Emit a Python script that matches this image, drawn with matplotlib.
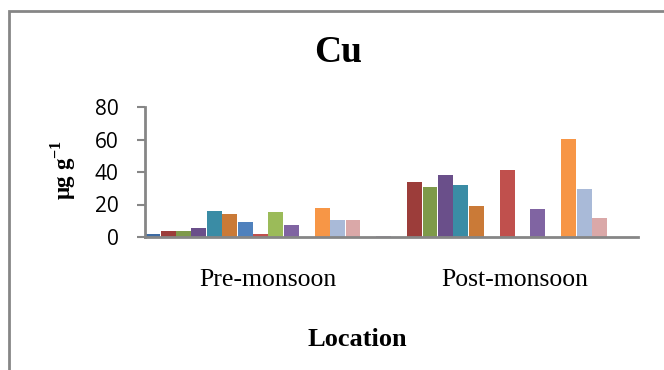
import matplotlib.pyplot as plt
import numpy as np
from matplotlib.patches import Rectangle

plt.rcParams['mathtext.fontset'] = 'custom'
plt.rcParams['mathtext.rm'] = 'Liberation Serif:bold'
plt.rcParams['mathtext.bf'] = 'Liberation Serif:bold'

seasons = ['Pre-monsoon', 'Post-monsoon']
# one value per location (16 series), pre- and post-monsoon
cu_pre = [2.0, 3.9, 3.5, 5.5, 15.8, 13.9, 9.4, 2.0, 15.6, 7.6, 0.0, 17.8, 10.6, 10.6, 0.0, 0.8]
cu_post = [0.0, 33.6, 30.7, 37.9, 32.1, 19.2, 0.0, 41.0, 0.0, 17.3, 0.0, 60.2, 29.3, 11.5, 0.0, 0.0]
colors = ['#3E6BA3', '#9C3D3A', '#7E9A4A', '#6A4F8A', '#3A8CA5', '#CA7A37',
          '#4F81BD', '#C0504D', '#9BBB59', '#8064A2', '#4BACC6', '#F79646',
          '#A9BAD8', '#DAA8A8', '#C3D69B', '#B8A9CB']

grey = '#868686'
fig = plt.figure(figsize=(6.64, 3.70), dpi=100)
ax = fig.add_axes([145 / 664, 1 - 237 / 370, (638 - 145) / 664, (237 - 107) / 370])

n = len(cu_pre)
w = 1.0 / n
x = np.arange(len(seasons))
for i in range(n):
    vals = [cu_pre[i], cu_post[i]]
    ax.bar(x + (i - (n - 1) / 2) * w, vals, width=w * 0.97, color=colors[i],
           linewidth=0, align='center', zorder=1)

ax.set_xlim(-0.5, 1.5)
ax.set_ylim(0, 80)
ax.set_yticks([0, 20, 40, 60, 80])
ax.set_xticks(x)
ax.set_xticklabels(seasons, family='Liberation Serif', fontsize=18.5)
ax.tick_params(axis='x', length=0, pad=23)
ax.tick_params(axis='y', length=6, width=1.5, color=grey, pad=13,
               labelsize=15)
for lab in ax.get_yticklabels():
    lab.set_family('Open Sans')
for s in ['top', 'right']:
    ax.spines[s].set_visible(False)
for s in ['left', 'bottom']:
    ax.spines[s].set_color(grey)
    ax.spines[s].set_linewidth(2)
    ax.spines[s].set_zorder(3)

fig.text(338 / 664, 1 - 53 / 370, 'Cu', family='Liberation Serif',
         fontweight='bold', fontsize=27, ha='center', va='center')
fig.text(357 / 664, 1 - 340 / 370, 'Location', family='Liberation Serif',
         fontweight='bold', fontsize=19, ha='center', va='center')
fig.text(63 / 664, 1 - 170 / 370, r'μg g$^{\mathbf{-1}}$', family='Liberation Serif',
         fontweight='bold', fontsize=16.5, rotation=90, ha='center', va='center')

# chart area frame (only left and top edges fall inside the image)
fig.add_artist(Rectangle((8.5 / 664, -0.1), 2, 1.1 - 11 / 370,
                         transform=fig.transFigure, fill=False,
                         edgecolor=grey, linewidth=2))

fig.savefig('out.png', dpi=100)
